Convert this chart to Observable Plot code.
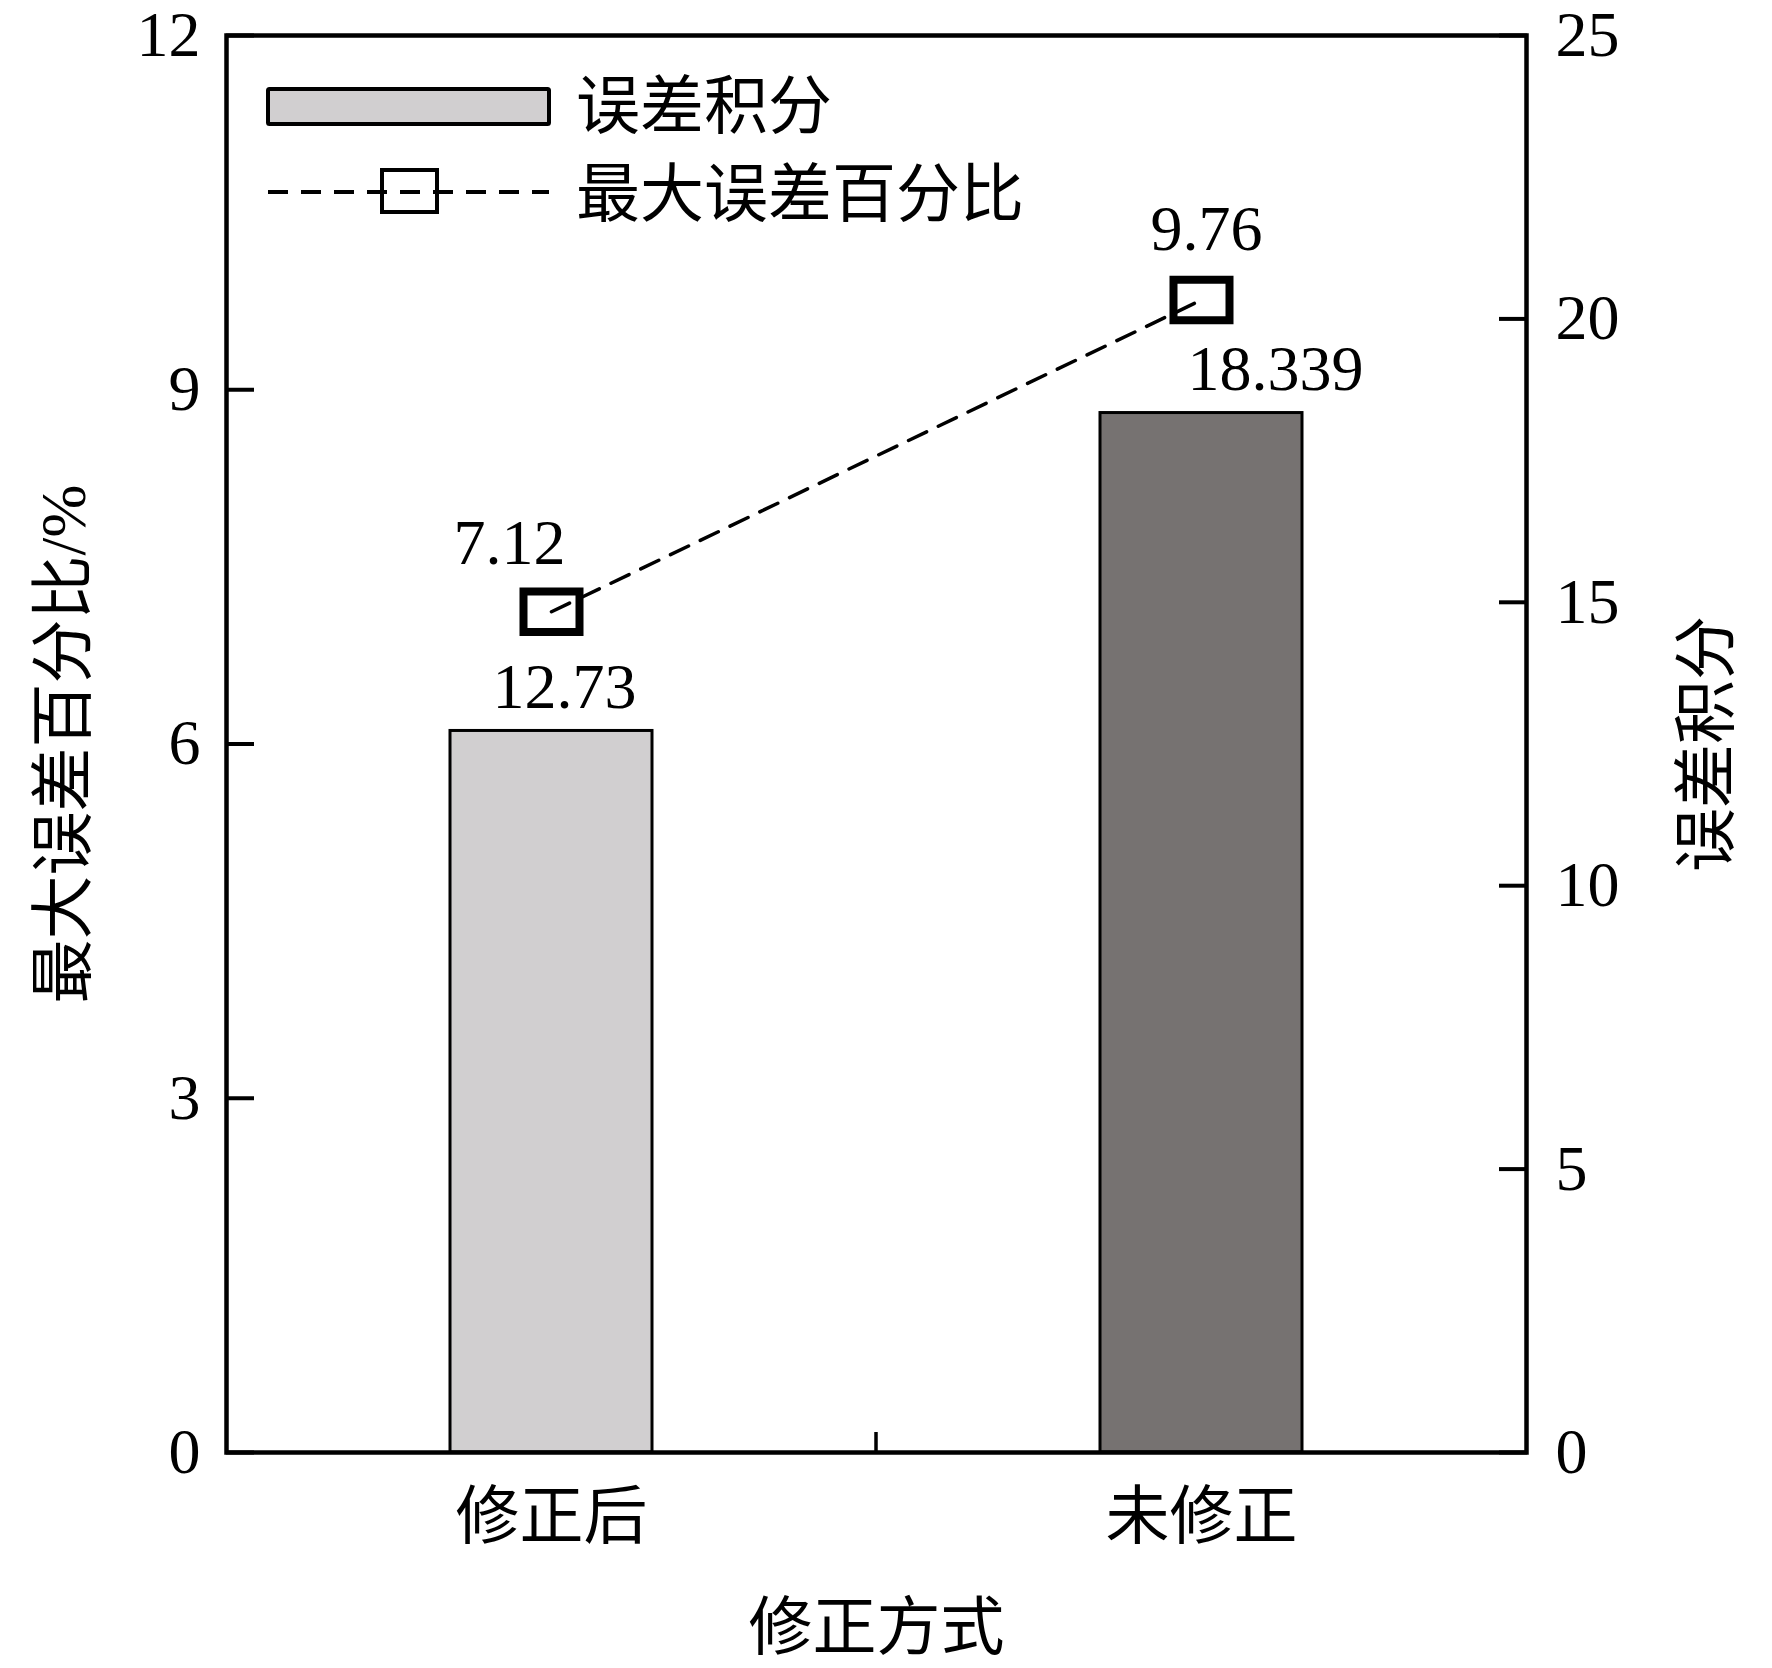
<!DOCTYPE html>
<html>
<head>
<meta charset="utf-8">
<script src="https://cdn.jsdelivr.net/npm/d3@7"></script>
<script src="https://cdn.jsdelivr.net/npm/@observablehq/plot@0.6"></script>
<style>
  html, body { margin: 0; padding: 0; background: #fff; }
</style>
</head>
<body>
<div id="chart"></div>
<script>
// ---- data ----
const categories = ["修正后", "未修正"];
const errorIntegral = [12.73, 18.339];      // 误差积分 (right axis, bars)
const maxErrorPct = [7.12, 9.76];           // 最大误差百分比 (left axis, line + markers)
const leftTicks = [0, 3, 6, 9, 12];
const rightTicks = [0, 5, 10, 15, 20, 25];
const leftMax = 12, rightMax = 25;

const rows = categories.map((c, i) => ({cat: c, integral: errorIntegral[i], pct: maxErrorPct[i]}));
const toLeft = v => v * leftMax / rightMax;

const FONT = '"Liberation Serif","Noto Sans CJK SC",serif';
const FS = 64;
const barFills = ["#d1cfd0", "#767271"];

// rectangular marker symbol (wider than tall)
const rectSymbol = {
  draw(ctx, size) {
    const r = Math.sqrt(size / Math.PI);
    const w = r, h = r * 0.72;
    ctx.moveTo(-w, -h); ctx.lineTo(w, -h); ctx.lineTo(w, h); ctx.lineTo(-w, h); ctx.closePath();
  }
};

const pctLabel = (i, dx, dy) => Plot.text([rows[i]], {
  x: "cat", y: "pct", text: d => String(d.pct), dx, dy,
  lineAnchor: "bottom", fontSize: FS, fill: "black"
});
const intLabel = (i, dx, dy) => Plot.text([rows[i]], {
  x: "cat", y: d => toLeft(d.integral), text: d => String(d.integral), dx, dy,
  lineAnchor: "bottom", fontSize: FS, fill: "black"
});

const chart = Plot.plot({
  width: 1772,
  height: 1668,
  marginLeft: 226,
  marginRight: 246,
  marginTop: 35,
  marginBottom: 216,
  style: {fontFamily: FONT, fontSize: FS + "px", background: "white", color: "black"},
  x: {domain: categories, paddingInner: 0.69, paddingOuter: 0.345, label: null},
  y: {domain: [0, leftMax], label: null},
  marks: [
    Plot.barY(rows, {
      x: "cat", y: d => toLeft(d.integral),
      fill: d => barFills[categories.indexOf(d.cat)],
      stroke: "black", strokeWidth: 3
    }),
    Plot.line(rows, {
      x: "cat", y: "pct", stroke: "black", strokeWidth: 3.5, strokeDasharray: "20,13"
    }),
    Plot.dot(rows, {
      x: "cat", y: "pct", symbol: rectSymbol, r: 28,
      stroke: "black", strokeWidth: 8, fill: "none"
    }),
    pctLabel(0, -42, -48),
    pctLabel(1, 5, -50),
    intLabel(0, 13, -23),
    intLabel(1, 74, -23),
    Plot.axisY(leftTicks, {
      anchor: "left", tickSize: -28, tickPadding: 54, strokeWidth: 4,
      fontSize: FS, tickFormat: d => String(d), label: null
    }),
    Plot.axisY(rightTicks.map(toLeft), {
      anchor: "right", tickSize: -28, tickPadding: 57, strokeWidth: 4,
      fontSize: FS, tickFormat: d => String(Math.round(d * rightMax / leftMax)), label: null
    }),
    Plot.axisX({tickSize: 0, tickPadding: 40, fontSize: FS, label: null}),
    Plot.text(["最大误差百分比/%"], {frameAnchor: "left", dx: -162, rotate: -90, textAnchor: "middle", lineAnchor: "middle", fontSize: FS, fill: "black"}),
    Plot.text(["误差积分"], {frameAnchor: "right", dx: 181, rotate: -90, textAnchor: "middle", lineAnchor: "middle", fontSize: FS, fill: "black"}),
    Plot.text(["修正方式"], {frameAnchor: "bottom", dy: 176, textAnchor: "middle", lineAnchor: "middle", fontSize: FS, fill: "black"}),
    Plot.frame({stroke: "black", strokeWidth: 4.5})
  ]
});

document.getElementById("chart").appendChild(chart);

// middle tick on the x axis (between the two categories), from the x scale
const svg = d3.select(chart);
const xs = chart.scale("x"), ys = chart.scale("y");
const mid = (xs.apply(categories[0]) + xs.apply(categories[1])) / 2 + xs.bandwidth / 2;
const y0 = ys.apply(0);
svg.append("line")
  .attr("x1", mid).attr("x2", mid).attr("y1", y0).attr("y2", y0 - 20)
  .attr("stroke", "black").attr("stroke-width", 3.5);

// legend (inside plot area, top-left)
const lg = svg.append("g").attr("font-family", FONT).attr("font-size", FS).attr("text-anchor", "start");
lg.append("rect").attr("x", 268).attr("y", 89).attr("width", 281).attr("height", 35)
  .attr("fill", barFills[0]).attr("stroke", "black").attr("stroke-width", 4).attr("rx", 1.5);
lg.append("text").attr("x", 576).attr("y", 106).attr("dy", "0.35em").attr("text-anchor", "start").text("误差积分");
lg.append("line").attr("x1", 268).attr("x2", 549).attr("y1", 192).attr("y2", 192)
  .attr("stroke", "black").attr("stroke-width", 4).attr("stroke-dasharray", "20,13");
lg.append("rect").attr("x", 382).attr("y", 170).attr("width", 55).attr("height", 42)
  .attr("fill", "none").attr("stroke", "black").attr("stroke-width", 4);
lg.append("text").attr("x", 576).attr("y", 194).attr("dy", "0.35em").attr("text-anchor", "start").text("最大误差百分比");
</script>
</body>
</html>
